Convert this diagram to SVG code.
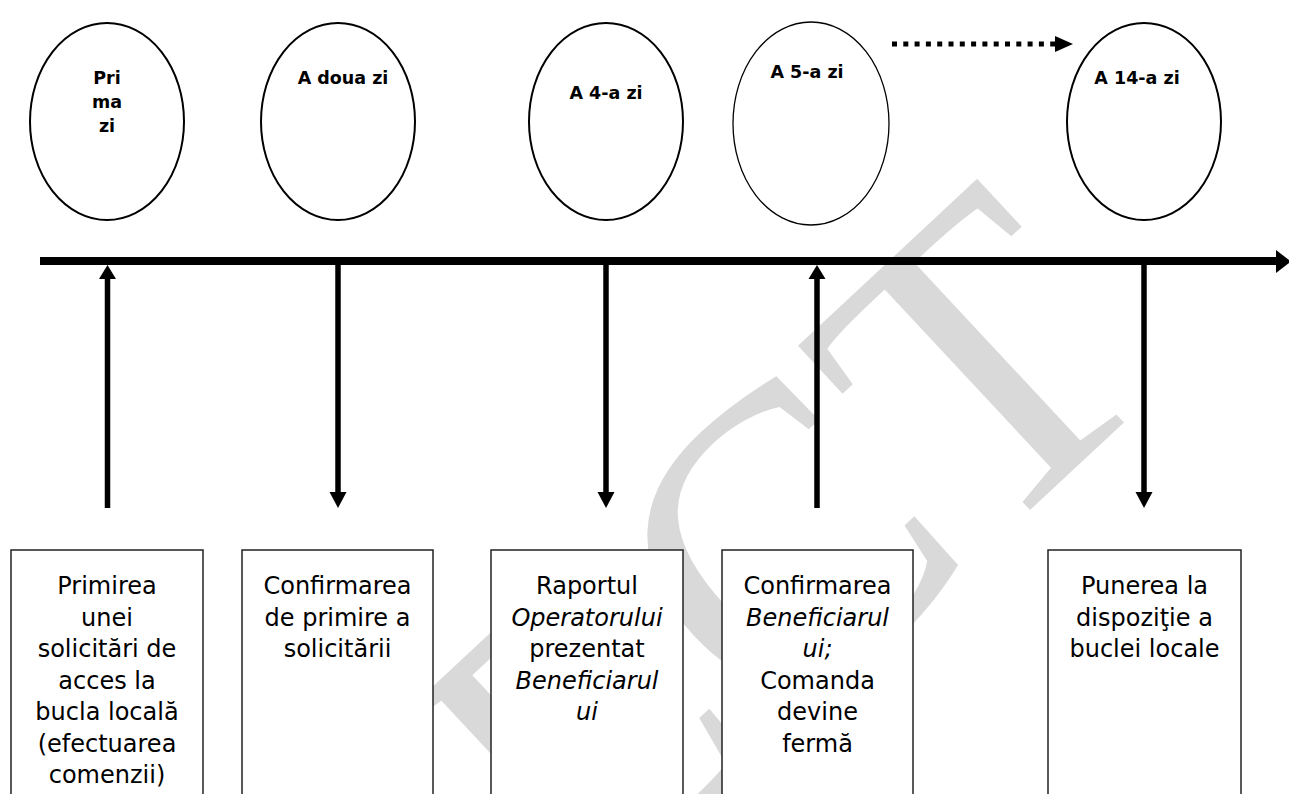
<svg xmlns="http://www.w3.org/2000/svg" width="1289" height="794" viewBox="0 0 1289 794">
<style>
.day{fill:#fff;stroke:#000;stroke-width:2}
.thin{stroke-width:1.3}
.lbl{font-family:"DejaVu Sans",Verdana,sans-serif;font-weight:bold;font-size:17.5px;fill:#000;text-anchor:middle}
.box{fill:#fff;stroke:#222;stroke-width:1.5}
.bt{font-family:"DejaVu Sans",Verdana,sans-serif;font-size:24px;fill:#000;text-anchor:middle}
.it{font-style:italic}
.shaft{stroke:#000;stroke-width:5.5;fill:none}
.head{fill:#000}
</style>
<rect width="1289" height="794" fill="#fff"/>
<g id="watermark" opacity="0.5">
<text transform="translate(585,925) rotate(-43)" font-family="Liberation Serif,serif" font-size="425" fill="#b4b4b4">ECT</text>
</g>
<g id="timeline">
<line x1="40" y1="261" x2="1277" y2="261" stroke="#000" stroke-width="8"/>
<polygon points="1276,250 1291,261.5 1276,273" fill="#000"/>
</g>
<g id="ellipses">
<g id="day1"><ellipse class="day" cx="107" cy="121.5" rx="77" ry="98.5"/>
<text class="lbl" x="107" y="84">Pri</text><text class="lbl" x="107" y="108">ma</text><text class="lbl" x="107" y="132">zi</text></g>
<g id="day2"><ellipse class="day" cx="338" cy="121.5" rx="77" ry="98.5"/>
<text class="lbl" x="343" y="84">A doua zi</text></g>
<g id="day4"><ellipse class="day" cx="606" cy="121.5" rx="77" ry="98.5"/>
<text class="lbl" x="606" y="99">A 4-a zi</text></g>
<g id="day5"><ellipse class="day thin" cx="811" cy="123.5" rx="78" ry="101.5"/>
<text class="lbl" x="807" y="78">A 5-a zi</text></g>
<g id="day14"><ellipse class="day" cx="1144" cy="121.5" rx="77" ry="98.5"/>
<text class="lbl" x="1137" y="84">A 14-a zi</text></g>
</g>
<g id="connectors">
<line x1="892" y1="44" x2="1056" y2="44" stroke="#000" stroke-width="5" stroke-dasharray="5 6.3"/>
<polygon points="1055,36 1073,44 1055,52" fill="#000"/>
<line class="shaft" x1="107.5" y1="508" x2="107.5" y2="276"/>
<polygon class="head" points="99,279 107.5,265 116,279"/>
<line class="shaft" x1="338" y1="265" x2="338" y2="494"/>
<polygon class="head" points="329.5,492 338,508 346.5,492"/>
<line class="shaft" x1="606" y1="265" x2="606" y2="494"/>
<polygon class="head" points="597.5,492 606,508 614.5,492"/>
<line class="shaft" x1="817" y1="508" x2="817" y2="276"/>
<polygon class="head" points="808.5,279 817,265 825.5,279"/>
<line class="shaft" x1="1144" y1="265" x2="1144" y2="494"/>
<polygon class="head" points="1135.5,492 1144,508 1152.5,492"/>
</g>
<g id="box1"><rect class="box" x="11" y="550" width="192" height="260"/>
<text class="bt" x="107" y="594">Primirea</text>
<text class="bt" x="107" y="625.5">unei</text>
<text class="bt" x="107" y="657">solicitări de</text>
<text class="bt" x="107" y="688.5">acces la</text>
<text class="bt" x="107" y="720">bucla locală</text>
<text class="bt" x="107" y="751.5">(efectuarea</text>
<text class="bt" x="107" y="783">comenzii)</text></g>
<g id="box2"><rect class="box" x="242" y="550" width="191" height="260"/>
<text class="bt" x="337.5" y="594">Confirmarea</text>
<text class="bt" x="337.5" y="625.5">de primire a</text>
<text class="bt" x="337.5" y="657">solicitării</text></g>
<g id="box3"><rect class="box" x="491" y="550" width="192" height="260"/>
<text class="bt" x="587" y="594">Raportul</text>
<text class="bt it" x="587" y="625.5">Operatorului</text>
<text class="bt" x="587" y="657">prezentat</text>
<text class="bt it" x="587" y="688.5">Beneficiarul</text>
<text class="bt it" x="587" y="720">ui</text></g>
<g id="box4"><rect class="box" x="722" y="550" width="191" height="260"/>
<text class="bt" x="817.5" y="594">Confirmarea</text>
<text class="bt it" x="817.5" y="625.5">Beneficiarul</text>
<text class="bt it" x="817.5" y="657">ui;</text>
<text class="bt" x="817.5" y="688.5">Comanda</text>
<text class="bt" x="817.5" y="720">devine</text>
<text class="bt" x="817.5" y="751.5">fermă</text></g>
<g id="box5"><rect class="box" x="1048" y="550" width="193" height="260"/>
<text class="bt" x="1144.5" y="594">Punerea la</text>
<text class="bt" x="1144.5" y="625.5">dispoziţie a</text>
<text class="bt" x="1144.5" y="657">buclei locale</text></g>
</svg>
